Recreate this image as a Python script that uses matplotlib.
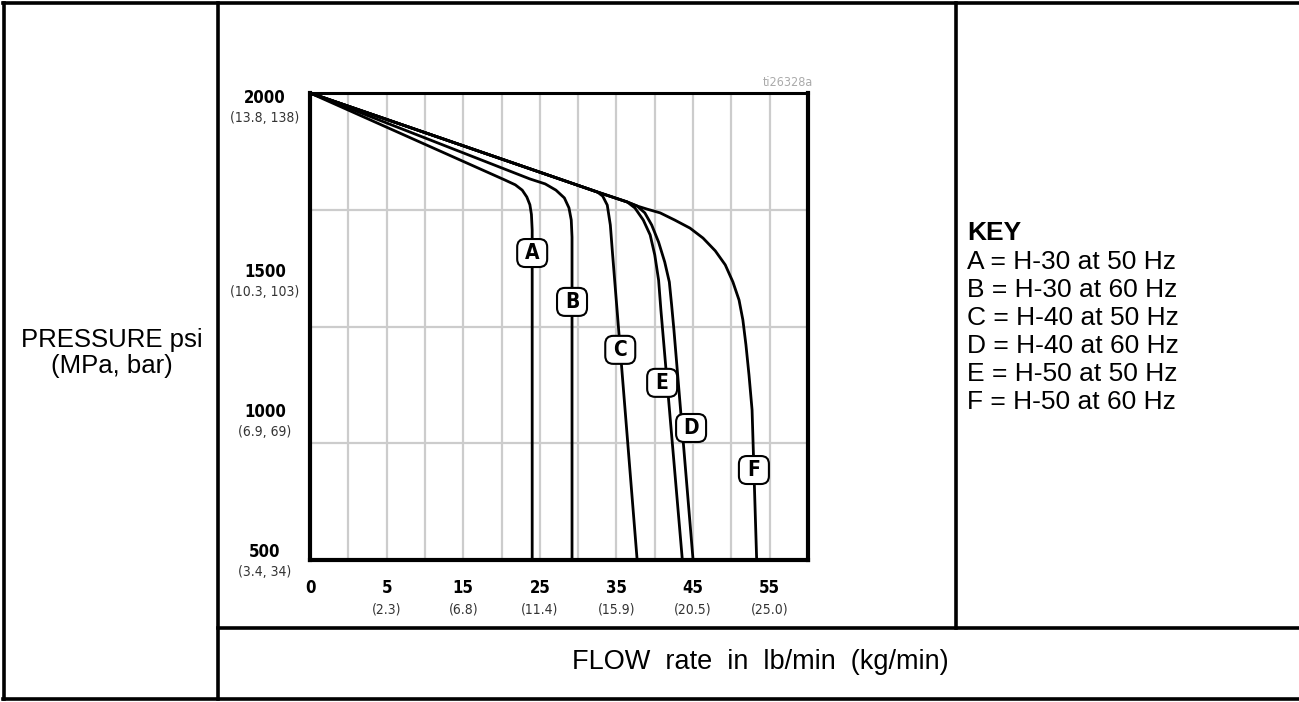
import numpy as np
import matplotlib
matplotlib.use("Agg")
import matplotlib.pyplot as plt
from matplotlib.lines import Line2D
from matplotlib.patches import FancyBboxPatch
from matplotlib.transforms import IdentityTransform

W, H = 1299, 702

# Curvas pressao x vazao (lb/min, psi)
flow_a = [0, 20.4, 21.8, 22.7, 23.3, 23.7, 23.9, 24.0, 24.0]
psi_a = [2000, 1721, 1705, 1688, 1666, 1641, 1610, 1560, 500]
flow_b = [0, 23.7, 25.7, 27.1, 28.2, 28.8, 29.1, 29.2, 29.2]
psi_b = [2000, 1724, 1708, 1688, 1663, 1631, 1592, 1537, 500]
flow_c = [0, 32.5, 33.2, 33.8, 34.2, 34.5, 37.7]
psi_c = [2000, 1682, 1669, 1640, 1576, 1480, 500]
flow_d = [0, 32.5, 36.4, 37.7, 38.7, 39.6, 40.5, 41.3, 41.9, 42.2, 42.5, 45.0]
psi_d = [2000, 1682, 1650, 1637, 1615, 1576, 1521, 1457, 1393, 1319, 1239, 500]
flow_e = [0, 32.5, 36.4, 37.4, 38.5, 39.4, 40.0, 40.5, 40.8, 43.6]
psi_e = [2000, 1682, 1650, 1631, 1592, 1544, 1480, 1399, 1303, 500]
flow_f = [0, 32.5, 36.4, 37.7, 39.0, 40.7, 42.6, 44.6, 46.3, 47.9, 49.2, 50.2,
          51.0, 51.5, 51.9, 52.3, 52.7, 53.3]
psi_f = [2000, 1682, 1650, 1637, 1627, 1615, 1592, 1566, 1534, 1493, 1448, 1393,
         1335, 1271, 1191, 1094, 982, 500]

curve_letters = ["A", "B", "C", "D", "E", "F"]
curve_flows = [flow_a, flow_b, flow_c, flow_d, flow_e, flow_f]
curve_psis = [psi_a, psi_b, psi_c, psi_d, psi_e, psi_f]
label_psi = [1486, 1329, 1175, 924, 1069, 789]

x_ticks = [5, 15, 25, 35, 45, 55]
x_sub = ["(2.3)", "(6.8)", "(11.4)", "(15.9)", "(20.5)", "(25.0)"]
y_ticks = ["2000", "1500", "1000", "500"]
y_sub = ["(13.8, 138)", "(10.3, 103)", "(6.9, 69)", "(3.4, 34)"]

key_lines = ["A = H-30 at 50 Hz", "B = H-30 at 60 Hz", "C = H-40 at 50 Hz",
             "D = H-40 at 60 Hz", "E = H-50 at 50 Hz", "F = H-50 at 60 Hz"]

NARROW = ["DejaVu Sans"]
SANS = ["Liberation Sans", "DejaVu Sans"]


def fx(px):
    return px / W


def fy(py):
    return 1 - py / H


# eixo x do original: 0 no canto, depois 5 lb/min por linha de grade
def fwd(x):
    x = np.asarray(x, dtype=float)
    return np.where(x < 5, 2 * x, x + 5)


def inv(t):
    t = np.asarray(t, dtype=float)
    return np.where(t < 10, t / 2, t - 5)


fig = plt.figure(figsize=(W / 100, H / 100), dpi=100)
ax = fig.add_axes([fx(310), fy(560), 498 / W, 467 / H])
ax.set_xscale("function", functions=(fwd, inv))
ax.set_xlim(0, 60)
ax.set_ylim(500, 2000)

# grade
for gx in [2.5] + list(range(5, 60, 5)):
    ax.axvline(gx, color="#cccccc", lw=1.6, zorder=1)
for gy in [875, 1250, 1625]:
    ax.axhline(gy, color="#cccccc", lw=1.6, zorder=1)

for fl, ps in zip(curve_flows, curve_psis):
    ax.plot(fl, ps, color="black", lw=2.0, solid_joinstyle="round",
            solid_capstyle="round", zorder=3)

ax.set_xticks([])
ax.set_yticks([])
for side in ["left", "bottom", "right"]:
    ax.spines[side].set_linewidth(3)
ax.spines["top"].set_linewidth(2.2)

# rotulos do eixo x
ax.text(0, -0.06, "0", transform=ax.get_xaxis_transform(), ha="center", va="center",
        fontsize=12, fontweight="bold", family=NARROW, fontstretch="condensed")
for v, s in zip(x_ticks, x_sub):
    ax.text(v, -0.06, str(v), transform=ax.get_xaxis_transform(), ha="center",
            va="center", fontsize=12, fontweight="bold", family=NARROW,
            fontstretch="condensed")
    ax.text(v, -0.105, s, transform=ax.get_xaxis_transform(), ha="center",
            va="center", fontsize=10, color="#333333", family=NARROW,
            fontstretch="condensed")

# rotulos do eixo y (posicoes como no original)
y_label_px = [98, 272, 412, 552]
for py, t, s in zip(y_label_px, y_ticks, y_sub):
    fig.text(fx(265), fy(py), t, ha="center", va="center", fontsize=12,
             fontweight="bold", family=NARROW, fontstretch="condensed")
    fig.text(fx(265), fy(py + 20), s, ha="center", va="center", fontsize=10,
             color="#333333", family=NARROW, fontstretch="condensed")

fig.text(fx(813), fy(83), "ti26328a", ha="right", va="center", fontsize=9,
         color="#aaaaaa", family=NARROW, fontstretch="condensed")

# letras das curvas
label_dx = [0, 0, 0, 9, -5, 0]
for letter, fl, ps, lp, dx in zip(curve_letters, curve_flows, curve_psis, label_psi, label_dx):
    lx = np.interp(lp, ps[::-1], fl[::-1])
    cx, cy = ax.transData.transform((lx, lp))
    cx += dx
    box = FancyBboxPatch((cx - 15, cy - 14), 30, 28,
                         boxstyle="round,pad=0,rounding_size=8",
                         fc="white", ec="black", lw=1.5,
                         transform=IdentityTransform(), zorder=5)
    fig.add_artist(box)
    fig.text(cx / W, cy / H, letter, ha="center", va="center", fontsize=15,
             fontweight="bold", family=NARROW, fontstretch="condensed", zorder=6)

# tabela
tw = 2.6
for (x0, y0, x1, y1) in [(3, 3, 1299, 3), (3, 699, 1299, 699), (4, 3, 4, 699),
                         (218, 3, 218, 699), (956, 3, 956, 628), (218, 628, 1299, 628)]:
    fig.add_artist(Line2D([fx(x0), fx(x1)], [fy(y0), fy(y1)], color="black", lw=tw,
                          solid_capstyle="projecting"))

fig.text(fx(112), fy(340), "PRESSURE psi", ha="center", va="center", fontsize=18.5,
         family=SANS)
fig.text(fx(112), fy(366), "(MPa, bar)", ha="center", va="center", fontsize=18.5,
         family=SANS)

fig.text(fx(967), fy(233), "KEY", ha="left", va="center", fontsize=19,
         fontweight="bold", family=SANS)
for i, line in enumerate(key_lines):
    fig.text(fx(967), fy(262 + 28 * i), line, ha="left", va="center", fontsize=19,
             family=SANS)

fig.text(fx(760), fy(662), "FLOW  rate  in  lb/min  (kg/min)", ha="center",
         va="center", fontsize=19.5, family=SANS)

fig.savefig("out.png", dpi=100, facecolor="white")
